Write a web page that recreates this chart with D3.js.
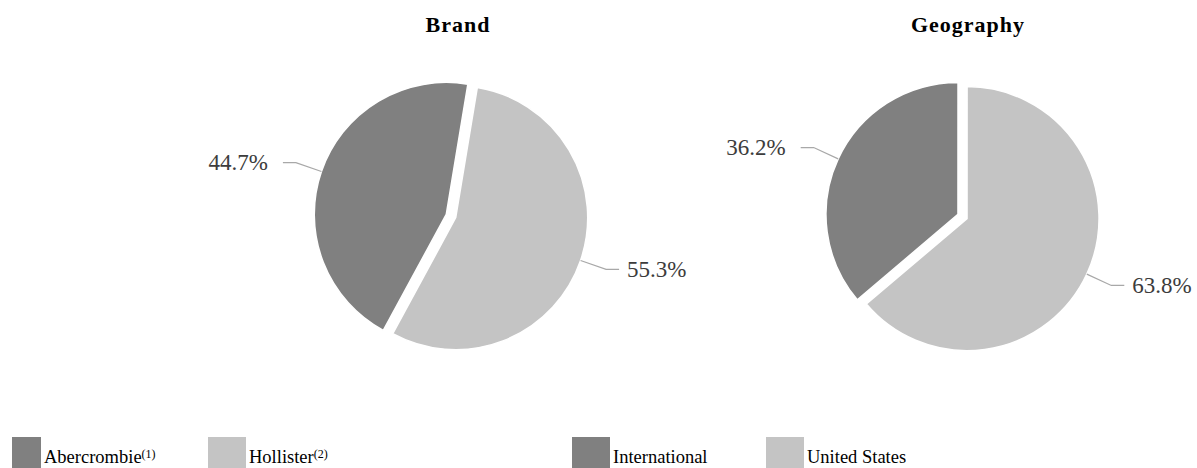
<!DOCTYPE html>
<html>
<head>
<meta charset="utf-8">
<script src="https://cdn.jsdelivr.net/npm/d3@7"></script>
<style>
  html, body { margin: 0; padding: 0; background: #ffffff; }
  svg { display: block; }
</style>
</head>
<body>
<div id="chart"></div>
<script>
// ---- data ----
const chartTitles = ["Brand", "Geography"];
const brandCategories = ["Abercrombie", "Hollister"];
const brandNotes = ["(1)", "(2)"];
const brandValues = [44.7, 55.3];
const geoCategories = ["International", "United States"];
const geoNotes = ["", ""];
const geoValues = [36.2, 63.8];
const sliceColors = ["#808080", "#c4c4c4"];

// ---- layout ----
const W = 1197, H = 468;
const FONT = "'Liberation Serif', 'Times New Roman', serif";
const layout = [
  { cx: 451, cy: 216, titleX: 458, startDeg: 208.5, legendX: [3, 208] },
  { cx: 962.5, cy: 216.5, titleX: 968, startDeg: 229.7, legendX: [572, 766] }
];
const R = 132, explode = 5;

const svg = d3.select("#chart").append("svg")
  .attr("width", W).attr("height", H)
  .attr("font-family", FONT);

const defs = svg.append("defs");
defs.append("clipPath").attr("id", "legclip")
  .append("rect").attr("x", 12).attr("y", 0).attr("width", W - 12).attr("height", H);

const datasets = [
  { cats: brandCategories, notes: brandNotes, vals: brandValues },
  { cats: geoCategories, notes: geoNotes, vals: geoValues }
];

const fmt = d3.format(".1f");
const arc = d3.arc().innerRadius(0).outerRadius(R);

datasets.forEach((ds, i) => {
  const L = layout[i];
  const s = L.startDeg * Math.PI / 180;
  const pie = d3.pie().sort(null).value(d => d.v)
    .startAngle(s).endAngle(s + 2 * Math.PI);
  const rows = ds.cats.map((c, j) => ({ c, v: ds.vals[j], j }));
  const arcs = pie(rows);

  // title
  svg.append("text")
    .attr("x", L.titleX).attr("y", 32)
    .attr("text-anchor", "middle")
    .attr("font-family", FONT)
    .attr("font-size", 22).attr("font-weight", "bold")
    .attr("letter-spacing", 1)
    .attr("fill", "#000")
    .text(chartTitles[i]);

  const g = svg.append("g").attr("transform", `translate(${L.cx},${L.cy})`);

  arcs.forEach(a => {
    const mid = (a.startAngle + a.endAngle) / 2;
    const ox = explode * Math.sin(mid), oy = -explode * Math.cos(mid);
    const sg = g.append("g").attr("transform", `translate(${ox},${oy})`);
    sg.append("path")
      .attr("d", arc(a))
      .attr("fill", sliceColors[a.data.j])
      .attr("stroke", "#ffffff").attr("stroke-width", 1.5);

    // leader line + label
    const sx = Math.sin(mid), sy = -Math.cos(mid);
    const p0 = [R * sx, R * sy];
    const p1 = [(R + 27) * sx, (R + 27) * sy];
    const side = sx >= 0 ? 1 : -1;
    const p2 = [p1[0] + side * 13, p1[1]];
    sg.append("polyline")
      .attr("points", [p0, p1, p2].map(p => p.join(",")).join(" "))
      .attr("fill", "none").attr("stroke", "#a8a8a8").attr("stroke-width", 1.2);
    sg.append("text")
      .attr("x", p2[0] + side * (side > 0 ? 8 : 15))
      .attr("y", p2[1])
      .attr("dy", "0.33em")
      .attr("text-anchor", side > 0 ? "start" : "end")
      .attr("font-family", FONT)
      .attr("font-size", 23)
      .attr("fill", "#3c3c3c")
      .text(fmt(a.data.v) + "%");
  });

  // legend
  const lg = svg.append("g").attr("clip-path", "url(#legclip)");
  ds.cats.forEach((c, j) => {
    const x = L.legendX[j];
    lg.append("rect")
      .attr("x", x).attr("y", 437)
      .attr("width", 38).attr("height", 38)
      .attr("fill", sliceColors[j]);
    const t = lg.append("text")
      .attr("x", x + 41).attr("y", 463)
      .attr("font-family", FONT)
      .attr("font-size", 18.5).attr("fill", "#000");
    t.append("tspan").text(c);
    if (ds.notes[j]) {
      t.append("tspan").attr("font-size", 12).attr("dy", -5).text(ds.notes[j]);
    }
  });
});
</script>
</body>
</html>
